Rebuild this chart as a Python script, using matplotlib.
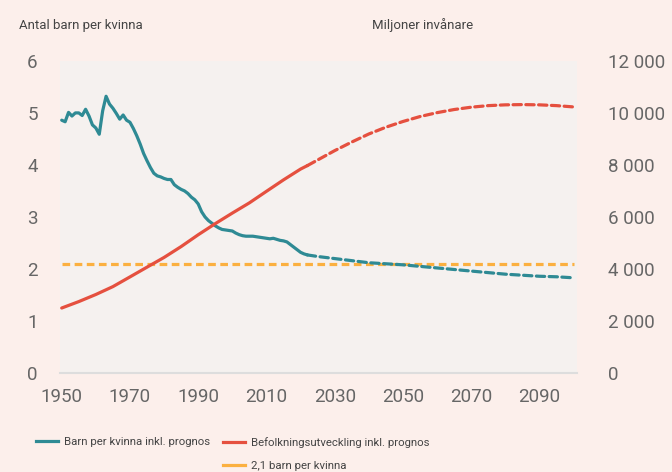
import matplotlib
matplotlib.use("Agg")
import matplotlib.pyplot as plt
from matplotlib.lines import Line2D
from matplotlib.ticker import FuncFormatter

# Barn per kvinna, historik 1950-2022
fert_years = list(range(1950, 2023))
fert_hist = [4.86, 4.83, 5.01, 4.94, 5.00, 5.00, 4.95, 5.07, 4.94, 4.77,
             4.71, 4.59, 5.04, 5.32, 5.17, 5.09, 4.99, 4.88, 4.96, 4.86,
             4.82, 4.70, 4.56, 4.40, 4.22, 4.08, 3.95, 3.84, 3.79, 3.77,
             3.74, 3.72, 3.72, 3.62, 3.57, 3.53, 3.50, 3.45, 3.38, 3.33,
             3.25, 3.10, 3.00, 2.93, 2.88, 2.83, 2.79, 2.76, 2.75, 2.74,
             2.73, 2.69, 2.66, 2.64, 2.63, 2.63, 2.63, 2.62, 2.61, 2.60,
             2.59, 2.58, 2.59, 2.57, 2.55, 2.54, 2.52, 2.47, 2.42, 2.37,
             2.32, 2.29, 2.27]

# prognos
proj_years = [2022, 2025, 2030, 2035, 2040, 2045, 2050, 2055, 2060,
              2065, 2070, 2075, 2080, 2085, 2090, 2095, 2100]
fert_proj = [2.27, 2.24, 2.20, 2.16, 2.12, 2.10, 2.08, 2.05, 2.02,
             1.99, 1.96, 1.93, 1.90, 1.88, 1.86, 1.85, 1.83]

# Befolkning (miljoner)
pop_years = [1950, 1955, 1960, 1965, 1970, 1975, 1980, 1985, 1990,
             1995, 2000, 2005, 2010, 2015, 2020, 2022]
pop_hist = [2499, 2746, 3019, 3322, 3695, 4070, 4444, 4862, 5316,
            5743, 6149, 6542, 6986, 7426, 7841, 7975]
pop_proj = [7975, 8190, 8550, 8880, 9190, 9450, 9670, 9860, 10010,
            10130, 10220, 10280, 10310, 10320, 10310, 10280, 10230]

replacement = 2.1
x_ticks = [1950, 1970, 1990, 2010, 2030, 2050, 2070, 2090]

TEAL = "#2e8a94"
RED = "#e5503f"
ORANGE = "#fbb040"
TXT = "#666666"

plt.rcParams["font.family"] = ["Roboto", "DejaVu Sans"]

fig = plt.figure(figsize = (6.72, 4.72), dpi = 100)
fig.patch.set_facecolor("#fcefeb")

ax = fig.add_axes([0.0893, 0.2097, 0.7693, 0.6613])
ax.set_facecolor("#f5f1ef")
ax2 = ax.twinx()

ax.plot(fert_years, fert_hist, color = TEAL, lw = 2.3, solid_capstyle = "round", solid_joinstyle = "round", zorder = 3)
ax.plot(proj_years, fert_proj, color = TEAL, lw = 2.3, dashes = (2.6, 1.4), dash_capstyle = "round", zorder = 3)
ax.plot([1950, 2100], [replacement, replacement], color = ORANGE, lw = 2.3, dashes = (2.4, 1.4), zorder = 2)

ax2.plot(pop_years, pop_hist, color = RED, lw = 2.3, solid_capstyle = "round", zorder = 3)
ax2.plot(proj_years, pop_proj, color = RED, lw = 2.3, dashes = (2.6, 1.4), dash_capstyle = "round", zorder = 3)

ax.set_xlim(1949.5, 2101)
ax.set_ylim(0, 6)
ax2.set_ylim(0, 12000)
ax.set_xticks(x_ticks)
ax.set_yticks(range(0, 7))
ax2.set_yticks(range(0, 12001, 2000))
ax2.yaxis.set_major_formatter(FuncFormatter(lambda v, p: f"{int(v):,}".replace(",", " ")))

for a in (ax, ax2):
    for s in a.spines.values():
        s.set_visible(False)
ax.spines["bottom"].set_visible(True)
ax.spines["bottom"].set_color("#dddddd")
ax.spines["bottom"].set_linewidth(1.5)

ax.tick_params(axis = "x", length = 0, pad = 11, labelsize = 13.5, labelcolor = TXT)
ax.tick_params(axis = "y", length = 0, pad = 16, labelsize = 13.5, labelcolor = TXT)
ax2.tick_params(axis = "y", length = 0, pad = 22, labelsize = 13.5, labelcolor = TXT)

fig.text(19 / 672, 1 - 25 / 472, "Antal barn per kvinna", fontsize = 9.5, color = "#444444", va = "center", ha = "left")
fig.text(372 / 672, 1 - 25 / 472, "Miljoner invånare", fontsize = 9.5, color = "#444444", va = "center", ha = "left")

# legend, two blocks
leg_kw = dict(loc = "upper left", frameon = False, fontsize = 8.2, handlelength = 1.9,
              handletextpad = 0.6, labelspacing = 1.15, borderaxespad = 0, borderpad = 0)
leg1 = fig.legend([Line2D([], [], color = TEAL, lw = 2.3)], ["Barn per kvinna inkl. prognos"],
                  bbox_to_anchor = (36 / 672, 1 - 437 / 472), **leg_kw)
leg2 = fig.legend([Line2D([], [], color = RED, lw = 2.3), Line2D([], [], color = ORANGE, lw = 2.3)],
                  ["Befolkningsutveckling inkl. prognos", "2,1 barn per kvinna"],
                  bbox_to_anchor = (223 / 672, 1 - 437 / 472), **leg_kw)
for leg in (leg1, leg2):
    for t in leg.get_texts():
        t.set_color("#444444")

fig.savefig("out.png", dpi = 100, facecolor = fig.get_facecolor())
